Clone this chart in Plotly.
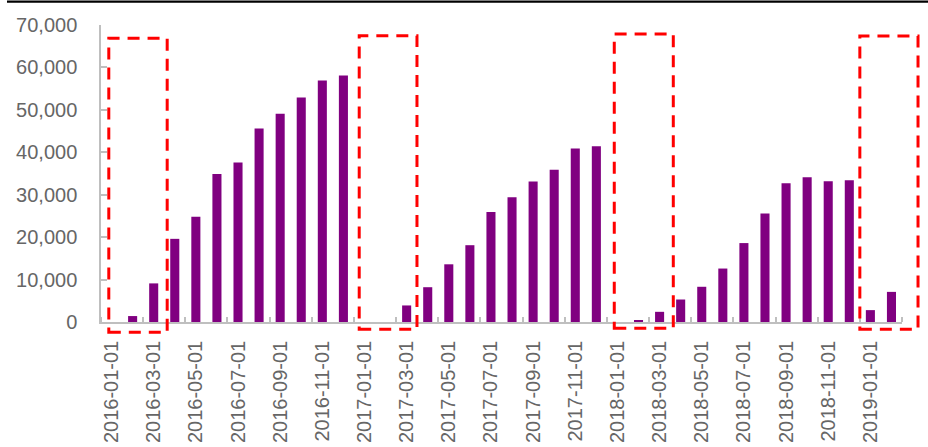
import plotly.graph_objects as go

months = [f"{y}-{m:02d}-01" for y in (2016, 2017, 2018) for m in range(1, 13)] + ["2019-01-01", "2019-02-01"]
values = [0, 1400, 9100, 19600, 24800, 34900, 37600, 45600, 49100, 52900, 56900, 58100,
          0, 0, 3900, 8200, 13600, 18100, 25900, 29400, 33100, 35900, 40900, 41400,
          0, 400, 2400, 5300, 8300, 12600, 18600, 25600, 32700, 34100, 33200, 33400,
          2800, 7100]
tick_idx = list(range(0, len(months), 2))
tick_labels = [months[i] for i in tick_idx]

# highlight boxes in (category index, value) units: x0, x1, y0, y1
boxes = [(-0.13, 2.64, -2430, 66860),
         (11.75, 14.49, -1720, 67480),
         (23.85, 26.65, -1485, 67880),
         (35.50, 38.26, -1720, 67400)]

W, H = 928, 447
ML, MR, MT, MB = 101, 26, 25, 125
XMIN, XMAX = -0.5, len(months) - 0.5
YMIN, YMAX = 0, 70000

x = list(range(len(months)))
fig = go.Figure(go.Bar(x=x, y=values, marker_color="#800080", marker_line_width=0))

font = dict(family="Liberation Sans, Arial, sans-serif", size=20, color="#666666")
axcol = "#bfbfbf"

shapes = []
for x0, x1, y0, y1 in boxes:
    shapes.append(dict(type="rect", xref="paper", yref="paper",
                       x0=(x0 - XMIN) / (XMAX - XMIN), x1=(x1 - XMIN) / (XMAX - XMIN),
                       y0=(y0 - YMIN) / (YMAX - YMIN), y1=(y1 - YMIN) / (YMAX - YMIN),
                       line=dict(color="#ff0000", width=3, dash="12px,8px"),
                       fillcolor="rgba(0,0,0,0)"))
pw = W - ML - MR
ph = H - MT - MB
shapes.append(dict(type="line", xref="paper", yref="paper",
                   x0=(7 - ML) / pw, x1=(W - ML) / pw,
                   y0=(H - MB - 1.7) / ph, y1=(H - MB - 1.7) / ph,
                   line=dict(color="#000000", width=2.2)))

fig.update_layout(
    width=W, height=H, margin=dict(l=ML, r=MR, t=MT, b=MB, autoexpand=False),
    plot_bgcolor="white", paper_bgcolor="white", showlegend=False,
    bargap=0.57, font=font, shapes=shapes,
    xaxis=dict(range=[XMIN, XMAX], tickmode="array", tickvals=tick_idx, ticktext=tick_labels,
               tickangle=-90, ticks="", showgrid=False, zeroline=False, automargin=False,
               showline=True, linecolor=axcol, linewidth=1.5, ticklabelstandoff=9,
               minor=dict(tickmode="linear", tick0=1.5, dtick=2, ticks="inside",
                          ticklen=5, tickwidth=1.5, tickcolor=axcol, showgrid=False)),
    yaxis=dict(range=[YMIN, YMAX], tickmode="linear", tick0=0, dtick=10000, automargin=False,
               tickformat=",d", ticks="inside", ticklen=6, tickwidth=1.5, tickcolor=axcol,
               showgrid=False, zeroline=False, showline=True, linecolor=axcol, linewidth=1.5,
               ticklabelstandoff=18),
)
fig.write_html("out.html")
